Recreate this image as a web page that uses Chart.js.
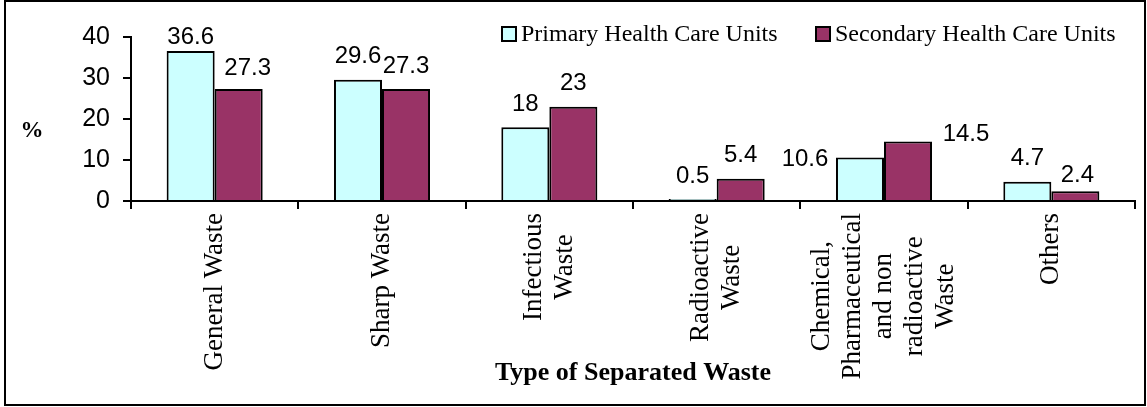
<!DOCTYPE html>
<html>
<head>
<meta charset="utf-8">
<script src="https://cdn.jsdelivr.net/npm/chart.js@4/dist/chart.umd.min.js"></script>
<style>
    html, body { margin: 0; padding: 0; background: #fff; }
    canvas { display: block; }
</style>
</head>
<body>
<canvas id="waste-chart" width="1147" height="407"></canvas>
<script>
    // categories (one entry per line of the rotated label)
    const categories = [
        ['General Waste'],
        ['Sharp Waste'],
        ['Infectious', 'Waste'],
        ['Radioactive', 'Waste'],
        ['Chemical,', 'Pharmaceutical', 'and non', 'radioactive', 'Waste'],
        ['Others']
    ];
    const seriesNames = ['Primary Health Care Units', 'Secondary Health Care Units'];
    const primaryValues = [36.6, 29.6, 18, 0.5, 10.6, 4.7];
    const secondaryValues = [27.3, 27.3, 23, 5.4, 14.5, 2.4];
    const yTickValues = [0, 10, 20, 30, 40];

    // where the value labels were nudged in the original (px)
    const labelShiftX = [[0, 0, 0, 0, -55, 0], [9, 0, 0, 0, 58, 2]];
    const labelShiftY = [[9, 0, 0, 0, 25, 0], [2, 0, 0, 0, 16, 7]];

    const seriesColors = ['#CCFFFF', '#993366'];
    const sansFont = '"Liberation Sans", Arial, sans-serif';
    const serifFont = '"Liberation Serif", "Times New Roman", serif';

    const framePlugin = {
        id: 'frame',
        beforeDraw: function (chart) {
            let ctx = chart.ctx;
            ctx.save();
            ctx.fillStyle = '#fff';
            ctx.fillRect(0, 0, chart.width, chart.height);
            ctx.strokeStyle = '#000';
            ctx.lineWidth = 2;
            ctx.strokeRect(5, 1, 1140, 404);
            ctx.restore();
        }
    };

    const valueLabels = {
        id: 'valueLabels',
        afterDatasetsDraw: function (chart) {
            let ctx = chart.ctx;
            ctx.save();
            ctx.font = '24px ' + sansFont;
            ctx.fillStyle = '#000';
            ctx.textAlign = 'center';
            ctx.textBaseline = 'middle';
            chart.data.datasets.forEach(function (ds, d) {
                chart.getDatasetMeta(d).data.forEach(function (bar, i) {
                    ctx.fillText(String(ds.data[i]),
                        bar.x + labelShiftX[d][i],
                        bar.y - 23 + labelShiftY[d][i]);
                });
            });
            ctx.restore();
        }
    };

    const categoryLabels = {
        id: 'categoryLabels',
        afterDraw: function (chart) {
            let ctx = chart.ctx;
            let xScale = chart.scales.x;
            let lineHeight = 31;
            ctx.save();
            ctx.font = '27px ' + serifFont;
            ctx.fillStyle = '#000';
            ctx.textAlign = 'center';
            ctx.textBaseline = 'middle';
            categories.forEach(function (lines, i) {
                let x = xScale.getPixelForValue(i);
                let longest = Math.max.apply(null, lines.map(function (l) {
                    return ctx.measureText(l).width;
                }));
                ctx.save();
                ctx.translate(x, 213);
                ctx.rotate(-Math.PI / 2);
                lines.forEach(function (line, j) {
                    ctx.fillText(line, -longest / 2, (j - (lines.length - 1) / 2) * lineHeight);
                });
                ctx.restore();
            });
            ctx.restore();
        }
    };

    const axisTitles = {
        id: 'axisTitles',
        afterDraw: function (chart) {
            let ctx = chart.ctx;
            let area = chart.chartArea;
            ctx.save();
            ctx.fillStyle = '#000';
            ctx.textAlign = 'center';
            ctx.textBaseline = 'middle';
            ctx.font = 'bold 23px ' + serifFont;
            ctx.fillText('%', 32, 131);
            ctx.font = 'bold 26px ' + serifFont;
            ctx.textBaseline = 'alphabetic';
            ctx.fillText('Type of Separated Waste', (area.left + area.right) / 2, 380);
            ctx.restore();
        }
    };

    const legendBoxes = {
        id: 'legendBoxes',
        afterDraw: function (chart) {
            let ctx = chart.ctx;
            let starts = [502, 816];
            ctx.save();
            ctx.font = '24px ' + serifFont;
            ctx.textBaseline = 'middle';
            ctx.textAlign = 'left';
            chart.data.datasets.forEach(function (ds, d) {
                let x = starts[d];
                ctx.fillStyle = ds.backgroundColor;
                ctx.fillRect(x, 27, 14, 14);
                ctx.strokeStyle = '#000';
                ctx.lineWidth = 2;
                ctx.strokeRect(x, 27, 14, 14);
                ctx.fillStyle = '#000';
                ctx.fillText(ds.label, x + 19, 35);
            });
            ctx.restore();
        }
    };

    const data = {
        labels: categories,
        datasets: [{
            label: seriesNames[0],
            data: primaryValues,
            backgroundColor: seriesColors[0],
            borderColor: '#000',
            borderWidth: 2
        }, {
            label: seriesNames[1],
            data: secondaryValues,
            backgroundColor: seriesColors[1],
            borderColor: '#000',
            borderWidth: 2
        }]
    };

    new Chart(document.getElementById('waste-chart'), {
        type: 'bar',
        data: data,
        plugins: [framePlugin, valueLabels, categoryLabels, axisTitles, legendBoxes],
        options: {
            responsive: false,
            animation: false,
            devicePixelRatio: 1,
            layout: {padding: {left: 0, top: 37, right: 12, bottom: 0}},
            datasets: {bar: {categoryPercentage: 0.574, barPercentage: 1}},
            plugins: {legend: {display: false}, tooltip: {enabled: false}},
            scales: {
                x: {
                    offset: true,
                    grid: {offset: true, drawOnChartArea: false, drawTicks: true, tickLength: 8, color: '#000', lineWidth: 2},
                    border: {display: true, color: '#000', width: 2},
                    ticks: {display: false},
                    afterFit: function (scale) { scale.height = 206; }
                },
                y: {
                    min: 0,
                    max: 40,
                    afterBuildTicks: function (scale) {
                        scale.ticks = yTickValues.map(function (v) { return {value: v}; });
                    },
                    grid: {drawOnChartArea: false, drawTicks: true, tickLength: 8, color: '#000', lineWidth: 2},
                    border: {display: true, color: '#000', width: 2},
                    ticks: {color: '#000', padding: 13, font: {family: sansFont, size: 25}},
                    afterFit: function (scale) { scale.width = 131; }
                }
            }
        }
    });
</script>
</body>
</html>
